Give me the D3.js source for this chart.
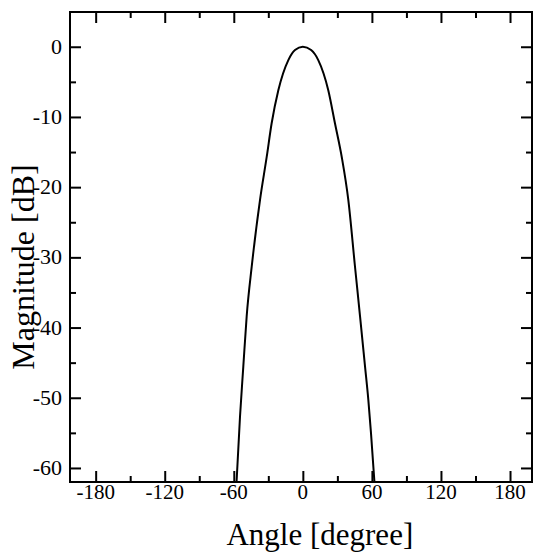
<!DOCTYPE html>
<html>
<head>
<meta charset="utf-8">
<script src="https://cdn.jsdelivr.net/npm/d3@7"></script>
<style>
  html, body { margin: 0; padding: 0; background: #fff; }
  svg { display: block; }
  text { font-family: "Liberation Serif", "Times New Roman", serif; fill: #000; }
</style>
</head>
<body>
<svg id="chart" width="535" height="554"></svg>
<script>
// Data (angle in degrees, magnitude in dB)
const angles = [-57.6, -54.6, -51.7, -48.8, -44.4, -37.2, -31.4, -27.1, -21.3, -12.6, -6.8, 0, 7.2, 13.4, 22.1, 27.9, 33.8, 39.5, 45.3, 49.7, 54.0, 56.9, 59.2, 62.2];
const magnitudes = [-62, -52.7, -45.5, -38.4, -31.3, -21.8, -15.7, -10.9, -6.2, -1.9, -0.47, 0, -0.47, -1.9, -6.2, -10.9, -15.7, -21.8, -31.3, -38.4, -45.5, -50.3, -55.0, -62];
const xMajorTicks = [-180, -120, -60, 0, 60, 120, 180];
const xMinorTicks = [-150, -90, -30, 30, 90, 150];
const yMajorTicks = [0, -10, -20, -30, -40, -50, -60];
const yMinorTicks = [-5, -15, -25, -35, -45, -55];
const xTitle = "Angle [degree]";
const yTitle = "Magnitude [dB]";

const svg = d3.select("#chart");
const L = 70, T = 12, R = 532, B = 482;

const x = d3.scaleLinear().domain([-202.3, 199.1]).range([L, R]);
const y = d3.scaleLinear().domain([-62, 4.95]).range([B, T]);

const tickStyle = g => {
  g.selectAll(".domain").remove();
  g.selectAll(".tick line").attr("stroke", "#000").attr("stroke-width", 2);
  g.selectAll(".tick text").remove();
};

const addAxis = (axis, tx, ty) =>
  svg.append("g").attr("transform", `translate(${tx},${ty})`).call(axis).call(tickStyle);

// tick marks on all four sides (inward)
addAxis(d3.axisBottom(x).tickValues(xMajorTicks).tickSizeInner(-11).tickSizeOuter(0), 0, B);
addAxis(d3.axisBottom(x).tickValues(xMinorTicks).tickSizeInner(-6).tickSizeOuter(0), 0, B);
addAxis(d3.axisTop(x).tickValues(xMajorTicks).tickSizeInner(-11).tickSizeOuter(0), 0, T);
addAxis(d3.axisTop(x).tickValues(xMinorTicks).tickSizeInner(-6).tickSizeOuter(0), 0, T);
addAxis(d3.axisLeft(y).tickValues(yMajorTicks).tickSizeInner(-11).tickSizeOuter(0), L, 0);
addAxis(d3.axisLeft(y).tickValues(yMinorTicks).tickSizeInner(-6).tickSizeOuter(0), L, 0);
addAxis(d3.axisRight(y).tickValues(yMajorTicks).tickSizeInner(-11).tickSizeOuter(0), R, 0);
addAxis(d3.axisRight(y).tickValues(yMinorTicks).tickSizeInner(-6).tickSizeOuter(0), R, 0);

// tick labels
svg.append("g").selectAll("text").data(xMajorTicks).join("text")
  .attr("x", d => x(d)).attr("y", B + 17)
  .attr("text-anchor", "middle").attr("font-size", "21px")
  .text(d => String(d));
svg.append("g").selectAll("text").data(yMajorTicks).join("text")
  .attr("x", L - 8).attr("y", d => y(d) + 7)
  .attr("text-anchor", "end").attr("font-size", "22px")
  .text(d => String(d));

// frame
svg.append("rect")
  .attr("x", L).attr("y", T).attr("width", R - L).attr("height", B - T)
  .attr("fill", "none").attr("stroke", "#000").attr("stroke-width", 2);

// curve
const pts = angles.map((a, i) => [a, magnitudes[i]]);
const line = d3.line().x(d => x(d[0])).y(d => y(d[1])).curve(d3.curveMonotoneX);
svg.append("path").datum(pts)
  .attr("d", line).attr("fill", "none").attr("stroke", "#000").attr("stroke-width", 2);

// titles
svg.append("text").attr("x", x(0) + 17).attr("y", 545)
  .attr("text-anchor", "middle").attr("font-size", "31px").text(xTitle);
svg.append("text").attr("transform", `translate(34,${267}) rotate(-90)`)
  .attr("text-anchor", "middle").attr("font-size", "32px").text(yTitle);
</script>
</body>
</html>
